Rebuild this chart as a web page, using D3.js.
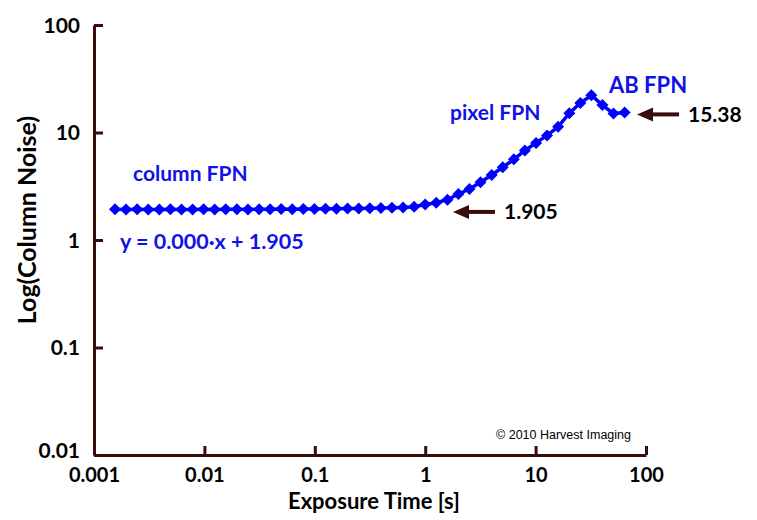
<!DOCTYPE html>
<html>
<head>
<meta charset="utf-8">
<script src="https://cdn.jsdelivr.net/npm/d3@7"></script>
<style>
  body { margin: 0; background: #fff; }
  svg { display: block; font-family: Lato, "Liberation Sans", sans-serif; }
</style>
</head>
<body>
<div id="chart"></div>
<script>
// exposure times [s], log spaced (three steps per factor of two)
const exposureTimes = [
  0.00155, 0.00195, 0.00246, 0.0031, 0.00391, 0.00492, 0.0062, 0.00781, 0.00984,
  0.0124, 0.0156, 0.0197, 0.0248, 0.0313, 0.0394, 0.0496, 0.0625, 0.0787, 0.0992,
  0.125, 0.157, 0.198, 0.25, 0.315, 0.397, 0.5, 0.63, 0.794, 1.0, 1.26, 1.59,
  2.0, 2.52, 3.17, 4.0, 5.04, 6.35, 8.0, 10.1, 12.7, 16.0, 20.2, 25.4, 32.0,
  40.3, 50.8, 64.0
];
// column noise
const columnNoise = [
  1.93, 1.92, 1.93, 1.92, 1.92, 1.93, 1.92, 1.92, 1.93, 1.92, 1.93, 1.93, 1.92,
  1.93, 1.93, 1.94, 1.93, 1.94, 1.94, 1.95, 1.95, 1.96, 1.96, 1.97, 1.98, 1.99,
  2.01, 2.04, 2.14, 2.22, 2.37, 2.68, 2.98, 3.45, 4.02, 4.75, 5.63, 6.8, 8.0,
  9.4, 11.3, 15.1, 18.8, 22.2, 18.0, 15.0, 15.38
];
const xTicks = [0.001, 0.01, 0.1, 1, 10, 100];
const yTicks = [0.01, 0.1, 1, 10, 100];
const regionLabels = ["column FPN", "pixel FPN", "AB FPN"];
const fitLabel = "y = 0.000\u00b7x + 1.905";
const arrowValues = [1.905, 15.38];

const width = 757, height = 520;
const axisColor = "#3a0c0c";
const blue = "#0000ff";
const textBlue = "#1212e6";

const svg = d3.select("#chart").append("svg")
  .attr("width", width)
  .attr("height", height);

const x = d3.scaleLog().domain([0.001, 100]).range([94, 646]);
const y = d3.scaleLog().domain([0.01, 100]).range([455, 25]);

// y axis, ticks pointing into the plot
const yAxis = svg.append("g")
  .attr("transform", `translate(${x(0.001)},0)`)
  .call(d3.axisLeft(y).tickValues(yTicks).tickFormat(d => String(d))
    .tickSizeInner(-9).tickSizeOuter(0).tickPadding(14));

const xAxis = svg.append("g")
  .attr("transform", `translate(0,${y(0.01)})`)
  .call(d3.axisBottom(x).tickValues(xTicks).tickFormat(d => String(d))
    .tickSizeInner(-9).tickSizeOuter(0).tickPadding(10));

[yAxis, xAxis].forEach(g => {
  g.select(".domain").attr("stroke", axisColor).attr("stroke-width", 3);
  g.selectAll(".tick line").attr("stroke", axisColor).attr("stroke-width", 3);
  g.selectAll(".tick text")
    .attr("fill", "#000")
    .style("font-weight", "bold")
    .style("font-family", "Lato, sans-serif");
});
yAxis.selectAll(".tick text").style("font-size", "21px")
  .attr("dy", d => d === 0.01 ? "0.12em" : "0.35em");
xAxis.selectAll(".tick text").style("font-size", "20px").attr("dy", "0.85em");

// axis titles
svg.append("text")
  .attr("x", 374).attr("y", 509)
  .attr("text-anchor", "middle")
  .style("font-size", "22px").style("font-weight", "bold")
  .text("Exposure Time [s]");

svg.append("text")
  .attr("transform", "translate(36,220) rotate(-90)")
  .attr("text-anchor", "middle")
  .style("font-size", "25px").style("font-weight", "bold")
  .text("Log(Column Noise)");

// series
const data = exposureTimes.map((t, i) => ({ t, v: columnNoise[i] }));

const line = d3.line().x(d => x(d.t)).y(d => y(d.v));

svg.append("path")
  .datum(data)
  .attr("d", line)
  .attr("fill", "none")
  .attr("stroke", blue)
  .attr("stroke-width", 3.5);

const squareDiamond = {
  draw(ctx, size) {
    const r = Math.sqrt(size / 2);
    ctx.moveTo(0, -r);
    ctx.lineTo(r, 0);
    ctx.lineTo(0, r);
    ctx.lineTo(-r, 0);
    ctx.closePath();
  }
};

svg.append("g").selectAll("path")
  .data(data)
  .join("path")
  .attr("transform", d => `translate(${x(d.t)},${y(d.v)})`)
  .attr("d", d3.symbol(squareDiamond, 72))
  .attr("fill", blue);

// region labels
const labelPos = [[133, 181], [450, 120], [609, 93]];
svg.append("g").selectAll("text")
  .data(regionLabels)
  .join("text")
  .attr("x", (d, i) => labelPos[i][0])
  .attr("y", (d, i) => labelPos[i][1])
  .attr("fill", textBlue)
  .style("font-size", (d, i) => i === 2 ? "22px" : "21px")
  .style("font-weight", "bold")
  .text(d => d);

svg.append("text")
  .attr("x", 120).attr("y", 249)
  .attr("fill", textBlue)
  .style("font-size", "21.5px").style("font-weight", "bold")
  .text(fitLabel);

// arrows pointing at the values
const arrowPos = [[453, 495, 504], [637, 679, 688]];
const arrows = svg.append("g").selectAll("g")
  .data(arrowValues)
  .join("g")
  .attr("transform", d => `translate(0,${y(d) + 2})`);

arrows.append("line")
  .attr("x1", (d, i) => arrowPos[i][0] + 12)
  .attr("x2", (d, i) => arrowPos[i][1])
  .attr("stroke", axisColor)
  .attr("stroke-width", 4);

arrows.append("path")
  .attr("d", (d, i) => {
    const h = arrowPos[i][0];
    return `M${h},0L${h + 16},-7L${h + 16},7Z`;
  })
  .attr("fill", axisColor);

arrows.append("text")
  .attr("x", (d, i) => arrowPos[i][2])
  .attr("dy", "0.35em")
  .attr("fill", "#000")
  .style("font-size", "21px").style("font-weight", "bold")
  .text(d => String(d));

svg.append("text")
  .attr("x", 496).attr("y", 439)
  .attr("fill", "#000")
  .style("font-size", "12.5px")
  .style("font-family", "'Liberation Sans', sans-serif")
  .text("\u00a9 2010 Harvest Imaging");
</script>
</body>
</html>
